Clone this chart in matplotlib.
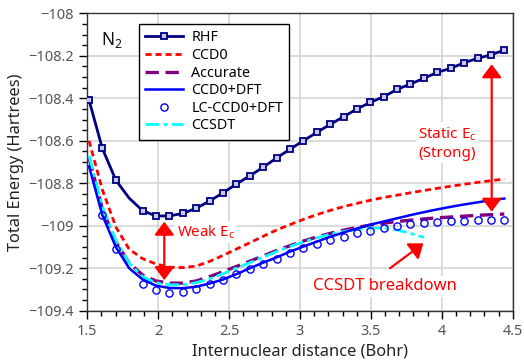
import numpy as np
import matplotlib
matplotlib.use("Agg")
import matplotlib.pyplot as plt
import matplotlib.ticker as mticker

plt.rcParams.update({
    "font.family": ["Noto Sans", "DejaVu Sans"],
    "mathtext.fontset": "custom",
    "mathtext.rm": "Noto Sans",
    "axes.unicode_minus": True,
})

# bond length grid (Bohr)
r_bohr = [1.512, 1.606, 1.701, 1.795, 1.890, 1.984, 2.079, 2.173, 2.268, 2.362,
          2.457, 2.551, 2.646, 2.740, 2.835, 2.929, 3.024, 3.118, 3.213, 3.307,
          3.401, 3.496, 3.590, 3.685, 3.779, 3.874, 3.968, 4.063, 4.157, 4.252,
          4.346, 4.441]

e_rhf = [-108.408, -108.636, -108.785, -108.870, -108.929, -108.954, -108.954,
         -108.942, -108.918, -108.884, -108.845, -108.804, -108.765, -108.725,
         -108.681, -108.640, -108.600, -108.561, -108.523, -108.487, -108.451,
         -108.419, -108.393, -108.358, -108.333, -108.306, -108.278, -108.259,
         -108.233, -108.212, -108.196, -108.173]

e_ccd0 = [-108.600, -108.830, -109.005, -109.110, -109.155, -109.180, -109.195,
          -109.197, -109.190, -109.168, -109.140, -109.110, -109.080, -109.050,
          -109.020, -108.995, -108.970, -108.948, -108.928, -108.910, -108.895,
          -108.880, -108.867, -108.856, -108.845, -108.834, -108.824, -108.814,
          -108.805, -108.796, -108.788, -108.780]

e_accurate = [-108.680, -108.920, -109.075, -109.175, -109.232, -109.260, -109.270,
              -109.270, -109.260, -109.240, -109.216, -109.192, -109.167, -109.142,
              -109.117, -109.094, -109.072, -109.053, -109.036, -109.021, -109.008,
              -108.997, -108.988, -108.980, -108.974, -108.968, -108.963, -108.959,
              -108.955, -108.951, -108.948, -108.945]

e_ccd0_dft = [-108.720, -108.950, -109.100, -109.200, -109.253, -109.282, -109.293,
              -109.294, -109.287, -109.272, -109.253, -109.228, -109.200, -109.174,
              -109.149, -109.122, -109.098, -109.075, -109.052, -109.032, -109.013,
              -108.995, -108.980, -108.965, -108.950, -108.936, -108.923, -108.911,
              -108.900, -108.890, -108.880, -108.872]

e_lc_ccd0_dft = [np.nan, -108.950, -109.111, np.nan, -109.274, -109.302, -109.315,
                 -109.311, -109.299, -109.276, -109.256, -109.229, -109.205, -109.180,
                 -109.155, -109.130, -109.105, -109.086, -109.067, -109.052, -109.036,
                 -109.024, -109.012, -109.001, -108.992, -108.986, -108.981, -108.978,
                 -108.976, -108.975, -108.973, -108.973]

e_ccsdt = [-108.670, -108.910, -109.070, -109.175, -109.240, -109.268, -109.278,
           -109.278, -109.268, -109.250, -109.226, -109.200, -109.174, -109.148,
           -109.122, -109.098, -109.076, -109.057, -109.040, -109.027, -109.017,
           -109.011, -109.011, -109.020, -109.036, -109.055, np.nan, np.nan,
           np.nan, np.nan, np.nan, np.nan]

x_ticks = [1.5, 2, 2.5, 3, 3.5, 4, 4.5]
y_ticks = [-109.4, -109.2, -109, -108.8, -108.6, -108.4, -108.2, -108]

rhf_marked = [i for i in range(len(r_bohr)) if i != 3]

fig = plt.figure(figsize=(5.24, 3.64), dpi=100)
ax = fig.add_axes([0.1666, 0.1464, 0.8118, 0.8171])

ax.plot(r_bohr, e_rhf, color="#000080", lw=2, marker="s", ms=4.6, mew=1.3,
        mfc="#c8c8f0", mec="#000080", markevery=rhf_marked, label="RHF", zorder=5)
ax.plot(r_bohr, e_ccd0, color="#ff0000", lw=2, ls=(0, (2.2, 1.4)), label="CCD0", zorder=3)
ax.plot(r_bohr, e_accurate, color="#800080", lw=2.4, ls=(0, (4, 2)), label="Accurate", zorder=3)
ax.plot(r_bohr, e_ccd0_dft, color="#0000ff", lw=1.8, label="CCD0+DFT", zorder=4)
ax.plot(r_bohr, e_lc_ccd0_dft, ls="none", marker="o", ms=5.2, mfc="none",
        mec="#0000ff", mew=1.0, label="LC-CCD0+DFT", zorder=4)
ax.plot(r_bohr, e_ccsdt, color="#00ffff", lw=2, ls=(0, (5, 1.5, 1.5, 1.5)),
        label="CCSDT", zorder=3)

ax.set_xlim(1.5, 4.5)
ax.set_ylim(-109.4, -108)
ax.set_xticks(x_ticks)
ax.set_yticks(y_ticks)
ax.xaxis.set_minor_locator(mticker.MultipleLocator(0.1))
ax.yaxis.set_minor_locator(mticker.MultipleLocator(0.05))
ax.xaxis.set_major_formatter(mticker.FuncFormatter(lambda v, p: f"{v:g}"))
ax.yaxis.set_major_formatter(mticker.FuncFormatter(lambda v, p: f"{v:g}".replace("-", "\u2212")))
ax.tick_params(which="major", direction="out", length=6, width=1,
               labelsize=10.5, labelcolor="#555555", top=False, right=False)
ax.tick_params(which="minor", direction="out", length=3.5, width=1, top=False, right=False)
ax.grid(True, which="major", color="#d4d4d4", lw=1.2, zorder=0)
for s in ax.spines.values():
    s.set_linewidth(1)
    s.set_color("#333333")

ax.set_xlabel("Internuclear distance (Bohr)", fontsize=11.8, color="#222222", labelpad=3)
ax.set_ylabel("Total Energy (Hartrees)", fontsize=11.8, color="#222222", labelpad=3)

ax.text(1.597, -108.126, r"N$_2$", fontsize=12.5, va="center", ha="left", color="#111111")

leg = ax.legend(loc="upper left", bbox_to_anchor=(0.1215, 0.964), borderaxespad=0,
                fontsize=10.3, frameon=True, fancybox=False, edgecolor="black",
                handlelength=2.6, handletextpad=0.6, labelspacing=0.18,
                borderpad=0.45)
leg.get_frame().set_linewidth(1)
leg.get_frame().set_alpha(1)
leg.set_zorder(10)

red = "#ff0000"
arrow_kw = dict(arrowstyle="<|-|>,head_length=0.4,head_width=0.3",
                color=red, lw=1.6, mutation_scale=20, shrinkA=0, shrinkB=0)
ax.annotate("", xy=(2.043, -109.256), xytext=(2.043, -108.981), arrowprops=arrow_kw, zorder=6)
ax.annotate("", xy=(4.352, -108.934), xytext=(4.352, -108.240), arrowprops=arrow_kw, zorder=6)
ax.annotate("", xy=(3.870, -109.083), xytext=(3.635, -109.200),
            arrowprops=dict(arrowstyle="-|>,head_length=0.4,head_width=0.3", color=red,
                            lw=1.6, mutation_scale=20, shrinkA=0, shrinkB=0), zorder=6)

box = dict(boxstyle="square,pad=0.15", facecolor="white", edgecolor="none")
ax.text(2.13, -109.03, r"Weak E$_\mathrm{c}$", color=red, fontsize=10.8,
        ha="left", va="center", bbox=box, zorder=6)
ax.text(4.04, -108.61, "Static E$_\\mathrm{c}$\n(Strong)", color=red, fontsize=11,
        ha="center", va="center", linespacing=1.25, bbox=box, zorder=6)
ax.text(3.60, -109.285, "CCSDT breakdown", color=red, fontsize=12,
        ha="center", va="center", bbox=box, zorder=6)

fig.savefig("out.png", dpi=100)
